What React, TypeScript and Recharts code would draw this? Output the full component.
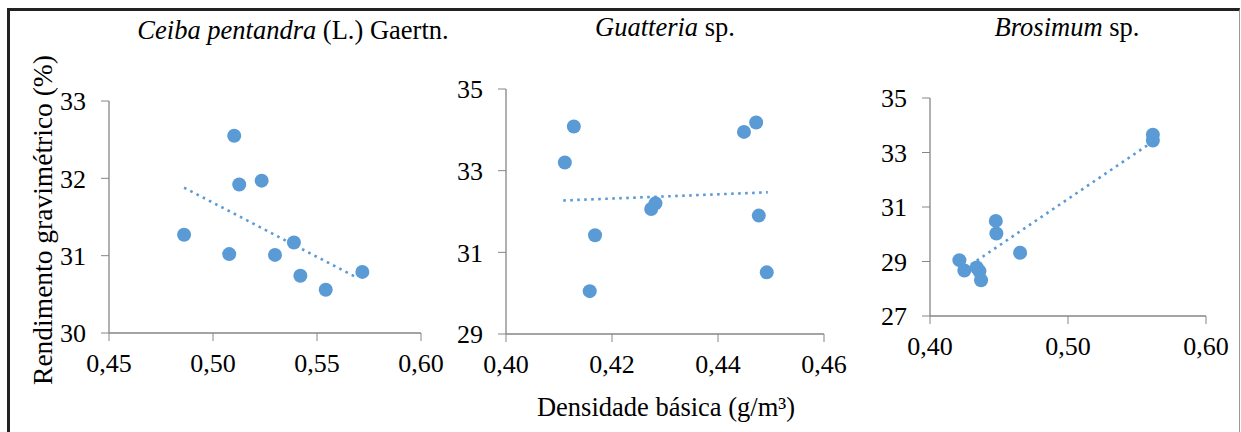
import React from "react";
import { ScatterChart, Scatter, XAxis, YAxis } from "recharts";

// Ceiba pentandra
const ceibaX = [0.5102, 0.5126, 0.5234, 0.4861, 0.5078, 0.5298, 0.5389, 0.542, 0.5542, 0.5718];
const ceibaY = [32.55, 31.92, 31.97, 31.27, 31.02, 31.01, 31.17, 30.74, 30.56, 30.79];
const ceibaTrendX = [0.4861, 0.5696];
const ceibaTrendY = [31.88, 30.71];

// Guatteria sp.
const guattX = [0.4128, 0.4111, 0.4168, 0.4158, 0.4274, 0.4282, 0.4449, 0.4472, 0.4477, 0.4492];
const guattY = [34.08, 33.2, 31.42, 30.05, 32.06, 32.2, 33.95, 34.18, 31.9, 30.51];
const guattTrendX = [0.4108, 0.4494];
const guattTrendY = [32.27, 32.47];

// Brosimum sp.
const brosX = [0.5615, 0.5615, 0.4477, 0.4481, 0.4653, 0.4213, 0.4249, 0.4339, 0.4358, 0.437];
const brosY = [33.65, 33.44, 30.49, 30.03, 29.32, 29.05, 28.67, 28.78, 28.64, 28.31];
const brosTrendX = [0.4213, 0.5615];
const brosTrendY = [28.6, 33.4];

const ceibaXTicks = [0.45, 0.5, 0.55, 0.6];
const ceibaYTicks = [30, 31, 32, 33];
const guattXTicks = [0.4, 0.42, 0.44, 0.46];
const guattYTicks = [29, 31, 33, 35];
const brosXTicks = [0.4, 0.5, 0.6];
const brosYTicks = [27, 29, 31, 33, 35];

const FONT = "'Liberation Serif', 'Times New Roman', serif";
const BLUE = "#5B9BD5";
const AXIS = "#868686";
const TICK_SIZE = 26;

const zip = (xs: number[], ys: number[]) => xs.map((x, i) => ({ x, y: ys[i] }));
const fmtX = (v: number) => v.toFixed(2).replace(".", ",");

const Dot = (props: any) =>
  props.cx == null ? <g /> : <circle cx={props.cx} cy={props.cy} r={7} fill={BLUE} />;
const NoDot = () => <g />;

const XTick = (props: any) => (
  <text
    x={props.x}
    y={props.y}
    dy="0.71em"
    textAnchor="middle"
    fontFamily={FONT}
    fontSize={TICK_SIZE}
    fill="#000"
  >
    {fmtX(props.payload.value)}
  </text>
);

const YTick = (props: any) => (
  <text
    x={props.x}
    y={props.y}
    dy="0.355em"
    textAnchor="end"
    fontFamily={FONT}
    fontSize={TICK_SIZE}
    fill="#000"
  >
    {String(props.payload.value)}
  </text>
);

type PanelProps = {
  xs: number[];
  ys: number[];
  tx: number[];
  ty: number[];
  xTicks: number[];
  yTicks: number[];
  margin: { top: number; left: number; right: number; bottom: number };
};

function Panel({ xs, ys, tx, ty, xTicks, yTicks, margin }: PanelProps) {
  return (
    <div style={{ position: "absolute", left: 0, top: 0 }}>
      <ScatterChart width={1241} height={432} margin={margin}>
        <XAxis
          type="number"
          dataKey="x"
          domain={[xTicks[0], xTicks[xTicks.length - 1]]}
          ticks={xTicks}
          allowDataOverflow
          height={40}
          tickSize={8}
          tickMargin={13}
          stroke={AXIS}
          tick={XTick}
          tickLine={{ stroke: AXIS }}
          axisLine={{ stroke: AXIS, strokeWidth: 1.3 }}
          interval={0}
        />
        <YAxis
          type="number"
          dataKey="y"
          domain={[yTicks[0], yTicks[yTicks.length - 1]]}
          ticks={yTicks}
          allowDataOverflow
          width={60}
          tickSize={8}
          tickMargin={15}
          stroke={AXIS}
          tick={YTick}
          tickLine={{ stroke: AXIS }}
          axisLine={{ stroke: AXIS, strokeWidth: 1.3 }}
          interval={0}
        />
        <Scatter data={zip(xs, ys)} shape={Dot} isAnimationActive={false} />
        <Scatter
          data={zip(tx, ty)}
          shape={NoDot}
          line={{ stroke: BLUE, strokeWidth: 2.6, strokeDasharray: "2.6 4.4" }}
          isAnimationActive={false}
        />
      </ScatterChart>
    </div>
  );
}

export default function App() {
  return (
    <div
      style={{
        position: "absolute",
        left: 0,
        top: 0,
        width: 1241,
        height: 432,
        background: "#fff",
        overflow: "hidden",
        fontFamily: FONT,
      }}
    >
      <div
        style={{
          position: "absolute",
          left: 7,
          top: 8,
          width: 1229,
          height: 440,
          borderLeft: "3px solid #222",
          borderTop: "3px solid #222",
          borderRight: "1px solid #999",
        }}
      />
      <Panel
        xs={ceibaX}
        ys={ceibaY}
        tx={ceibaTrendX}
        ty={ceibaTrendY}
        xTicks={ceibaXTicks}
        yTicks={ceibaYTicks}
        margin={{ top: 101, left: 49, right: 820, bottom: 59 }}
      />
      <Panel
        xs={guattX}
        ys={guattY}
        tx={guattTrendX}
        ty={guattTrendY}
        xTicks={guattXTicks}
        yTicks={guattYTicks}
        margin={{ top: 89, left: 446, right: 417, bottom: 58 }}
      />
      <Panel
        xs={brosX}
        ys={brosY}
        tx={brosTrendX}
        ty={brosTrendY}
        xTicks={brosXTicks}
        yTicks={brosYTicks}
        margin={{ top: 98, left: 870, right: 35, bottom: 76 }}
      />
      <svg
        width={1241}
        height={432}
        style={{ position: "absolute", left: 0, top: 0, pointerEvents: "none", fontFamily: FONT }}
      >
        <text x={293} y={39} textAnchor="middle" fontSize={26.5} fill="#000">
          <tspan fontStyle="italic">Ceiba pentandra</tspan> (L.) Gaertn.
        </text>
        <text x={665} y={36} textAnchor="middle" fontSize={26.5} fill="#000">
          <tspan fontStyle="italic">Guatteria</tspan> sp.
        </text>
        <text x={1067} y={36} textAnchor="middle" fontSize={26.5} fill="#000">
          <tspan fontStyle="italic">Brosimum</tspan> sp.
        </text>
        <text
          x={0}
          y={0}
          transform="translate(52,220) rotate(-90)"
          textAnchor="middle"
          fontSize={27.5}
          fill="#000"
        >
          Rendimento gravimétrico (%)
        </text>
        <text x={666} y={416} textAnchor="middle" fontSize={26.5} fill="#000">
          Densidade básica (g/m³)
        </text>
      </svg>
    </div>
  );
}
